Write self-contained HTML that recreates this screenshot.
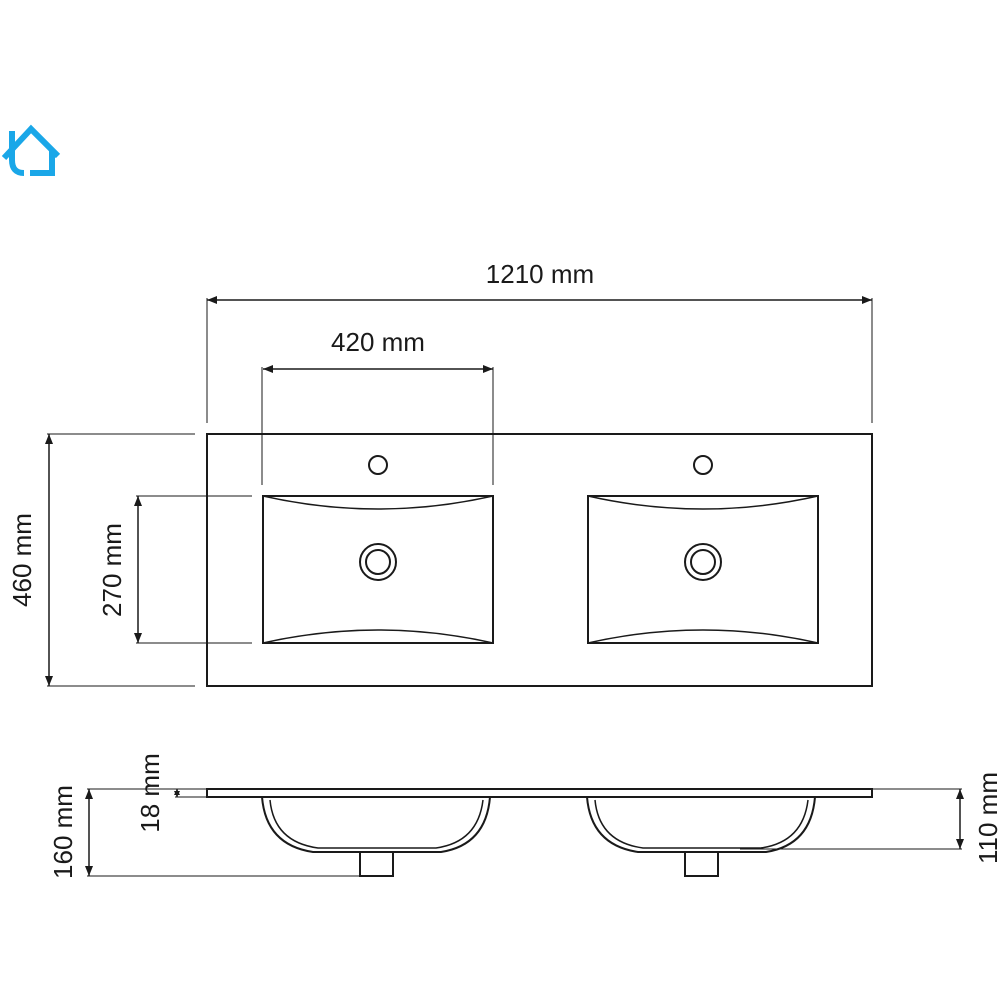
<!DOCTYPE html>
<html><head><style>body{margin:0;background:#fff}svg{display:block}text{font-family:"Liberation Sans",sans-serif;font-size:26px;fill:#1a1a1a}</style></head><body>
<svg width="1000" height="1000" viewBox="0 0 1000 1000" xmlns="http://www.w3.org/2000/svg">
<defs>
<marker id="a" markerWidth="10" markerHeight="8" refX="10" refY="4" orient="auto-start-reverse" markerUnits="userSpaceOnUse"><path d="M0,0 L10,4 L0,8z" fill="#1a1a1a"/></marker>
<marker id="s" markerWidth="6" markerHeight="6" refX="6" refY="3" orient="auto-start-reverse" markerUnits="userSpaceOnUse"><path d="M0,0 L6,3 L0,6z" fill="#1a1a1a"/></marker>
</defs>
<g fill="none" stroke="#1aa7e8" stroke-width="6">
<path d="M4,158 L31,129 L58,156"/>
<path d="M12,131 V160 Q12,173 24,173"/>
<path d="M30,173 H52 V150"/>
</g>
<g stroke="#1a1a1a" fill="none" stroke-width="1">
<line x1="207" y1="298" x2="207" y2="423"/><line x1="872" y1="298" x2="872" y2="423"/>
<line x1="207" y1="300" x2="872" y2="300" stroke-width="1.5" marker-start="url(#a)" marker-end="url(#a)"/>
<line x1="262" y1="367" x2="262" y2="485"/><line x1="493" y1="367" x2="493" y2="485"/>
<line x1="263" y1="369" x2="493" y2="369" stroke-width="1.5" marker-start="url(#a)" marker-end="url(#a)"/>
<line x1="47" y1="434" x2="195" y2="434"/><line x1="47" y1="686" x2="195" y2="686"/>
<line x1="49" y1="434" x2="49" y2="686" stroke-width="1.5" marker-start="url(#a)" marker-end="url(#a)"/>
<line x1="136" y1="496" x2="252" y2="496"/><line x1="136" y1="643" x2="252" y2="643"/>
<line x1="138" y1="496" x2="138" y2="643" stroke-width="1.5" marker-start="url(#a)" marker-end="url(#a)"/>
<rect x="207" y="434" width="665" height="252" stroke-width="2"/>
<g id="b" stroke-width="2">
<rect x="263" y="496" width="230" height="147"/>
<path d="M263,496 Q378,522 493,496" stroke-width="1.5"/>
<path d="M263,643 Q378,617 493,643" stroke-width="1.5"/>
<circle cx="378" cy="562" r="18"/><circle cx="378" cy="562" r="12"/>
<circle cx="378" cy="465" r="9"/>
</g>
<use href="#b" transform="translate(325,0)"/>
<rect x="207" y="789" width="665" height="8" stroke-width="2"/>
<g id="c" stroke-width="2">
<path d="M262,797 Q266,845 313,852 H441 Q486,845 490,797"/>
<path d="M270,800 Q274,842 318,848 H436 Q478,842 483,800" stroke-width="1.5"/>
<path d="M360,852 V876 H393 V852"/>
</g>
<use href="#c" transform="translate(325,0)"/>
<line x1="87" y1="789" x2="207" y2="789"/><line x1="87" y1="876" x2="365" y2="876"/>
<line x1="89" y1="789" x2="89" y2="876" stroke-width="1.5" marker-start="url(#a)" marker-end="url(#a)"/>
<line x1="175" y1="797" x2="228" y2="797"/>
<line x1="177" y1="789" x2="177" y2="797" stroke-width="1.5" marker-start="url(#s)" marker-end="url(#s)"/>
<line x1="872" y1="789" x2="962" y2="789"/><line x1="740" y1="849" x2="962" y2="849"/>
<line x1="960" y1="789" x2="960" y2="849" stroke-width="1.5" marker-start="url(#a)" marker-end="url(#a)"/>
</g>
<text x="540" y="283" text-anchor="middle">1210 mm</text>
<text x="378" y="351" text-anchor="middle">420 mm</text>
<text transform="translate(31,560) rotate(-90)" text-anchor="middle">460 mm</text>
<text transform="translate(121,570) rotate(-90)" text-anchor="middle">270 mm</text>
<text transform="translate(72,832) rotate(-90)" text-anchor="middle">160 mm</text>
<text transform="translate(159,793) rotate(-90)" text-anchor="middle">18 mm</text>
<text transform="translate(997,818) rotate(-90)" text-anchor="middle">110 mm</text>
</svg>
</body></html>
